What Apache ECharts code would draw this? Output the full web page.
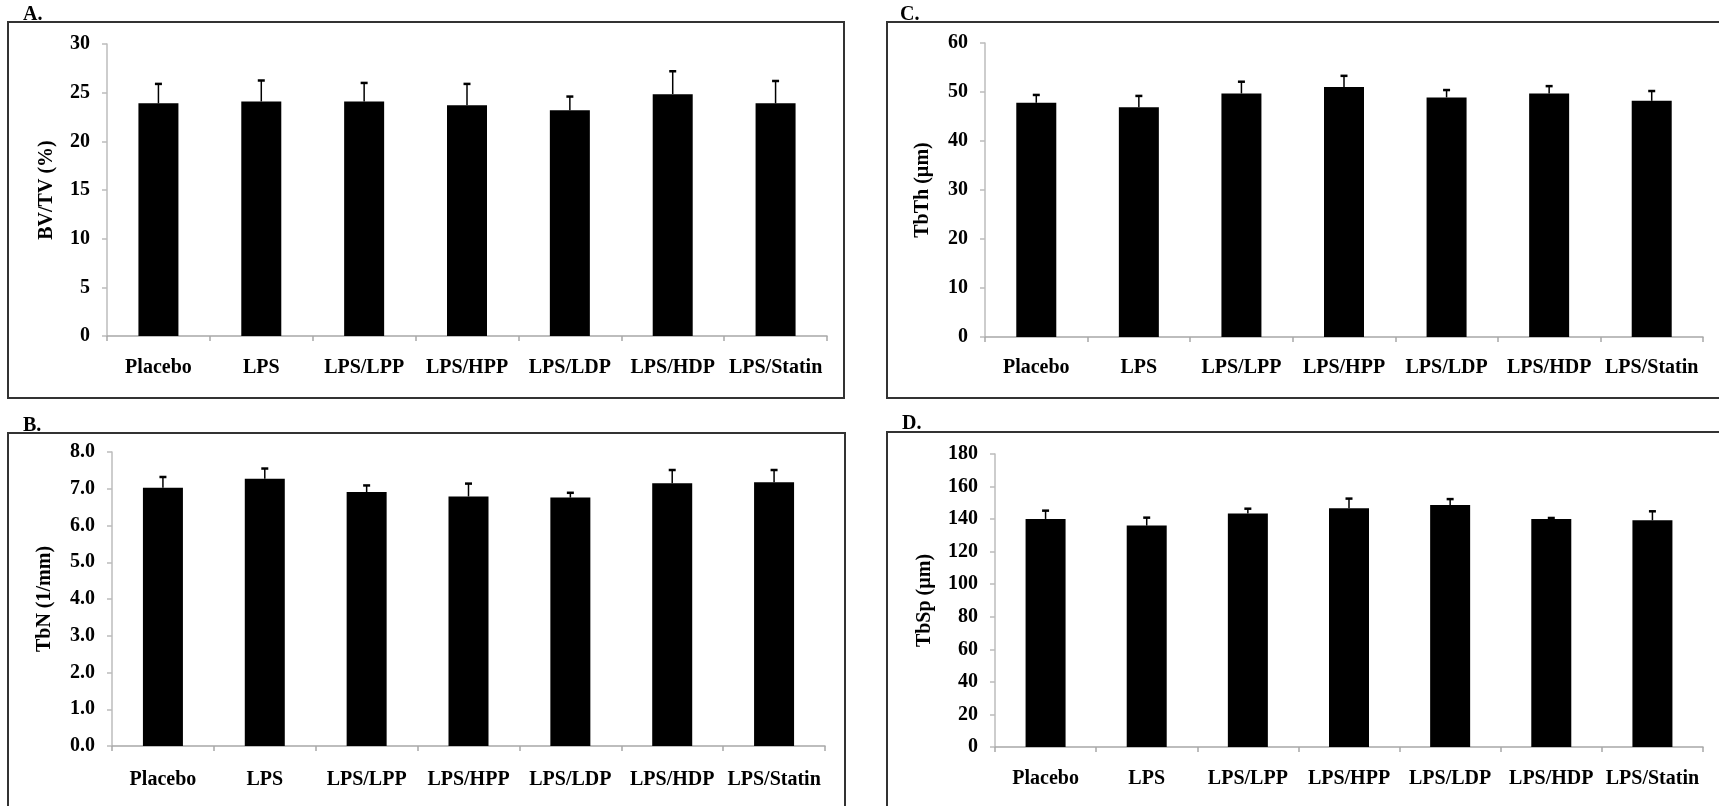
<!DOCTYPE html>
<html>
<head>
<meta charset="utf-8">
<script src="https://cdn.jsdelivr.net/npm/echarts@6/dist/echarts.min.js"></script>
<style>
html,body{margin:0;padding:0;background:#fff;}
#chart{width:1719px;height:806px;}
</style>
</head>
<body>
<div id="chart"></div>
<script>
const categories = ['Placebo', 'LPS', 'LPS/LPP', 'LPS/HPP', 'LPS/LDP', 'LPS/HDP', 'LPS/Statin'];

const bvtvMean = [23.9, 24.1, 24.1, 23.7, 23.2, 24.85, 23.9];
const bvtvErr  = [2.0, 2.15, 1.9, 2.2, 1.4, 2.35, 2.3];

const tbnMean = [7.03, 7.27, 6.91, 6.79, 6.76, 7.15, 7.18];
const tbnErr  = [0.29, 0.28, 0.18, 0.35, 0.13, 0.36, 0.33];

const tbthMean = [47.8, 46.9, 49.7, 51.0, 48.9, 49.7, 48.2];
const tbthErr  = [1.6, 2.3, 2.4, 2.3, 1.5, 1.5, 2.0];

const tbspMean = [140.1, 136.0, 143.4, 146.6, 148.6, 140.1, 139.3];
const tbspErr  = [5.1, 4.9, 3.0, 6.0, 3.7, 0.6, 5.5];

const panelLabels = ['A.', 'B.', 'C.', 'D.'];
const axisTitles = ['BV/TV (%)', 'TbN (1/mm)', 'TbTh (\u00b5m)', 'TbSp (\u00b5m)'];

const SERIF = '"Liberation Serif", "Times New Roman", serif';

const panels = [
  {grid:{left:107, top:44, width:720, height:292}, mean:bvtvMean, err:bvtvErr, max:30, interval:5, dec:0, title:axisTitles[0], gap:50, lblMargin:22},
  {grid:{left:112, top:452, width:713, height:294}, mean:tbnMean, err:tbnErr, max:8, interval:1, dec:1, title:axisTitles[1], gap:57, lblMargin:24},
  {grid:{left:985, top:43, width:718, height:294}, mean:tbthMean, err:tbthErr, max:60, interval:10, dec:0, title:axisTitles[2], gap:52, lblMargin:21},
  {grid:{left:995, top:454, width:708, height:293}, mean:tbspMean, err:tbspErr, max:180, interval:20, dec:0, title:axisTitles[3], gap:60, lblMargin:22}
];

function renderErr(params, api) {
  const idx = api.value(0);
  const top = api.value(1);
  const base = api.value(2);
  const p1 = api.coord([idx, base]);
  const p2 = api.coord([idx, top]);
  const cap = 3.5;
  return {
    type: 'group',
    children: [
      {type:'line', shape:{x1:p1[0], y1:p1[1], x2:p2[0], y2:p2[1]}, style:{stroke:'#000', lineWidth:1.5}},
      {type:'line', shape:{x1:p2[0]-cap, y1:p2[1], x2:p2[0]+cap, y2:p2[1]}, style:{stroke:'#000', lineWidth:2.5}}
    ]
  };
}

const grids = [], xAxes = [], yAxes = [], series = [];
panels.forEach((p, i) => {
  grids.push(Object.assign({containLabel:false}, p.grid));
  xAxes.push({
    type:'category', gridIndex:i, data:categories,
    axisLine:{show:true, lineStyle:{color:'#a8a8a8', width:1.5}},
    axisTick:{show:true, alignWithLabel:false, length:5, lineStyle:{color:'#a8a8a8', width:1.5}},
    axisLabel:{color:'#000', fontFamily:SERIF, fontSize:20, fontWeight:'bold', margin:p.lblMargin, interval:0},
    splitLine:{show:false}
  });
  yAxes.push({
    type:'value', gridIndex:i, min:0, max:p.max, interval:p.interval,
    name:p.title, nameLocation:'middle', nameRotate:90, nameGap:p.gap,
    nameTextStyle:{color:'#000', fontFamily:SERIF, fontSize:20, fontWeight:'bold'},
    axisLine:{show:true, lineStyle:{color:'#bcbcbc', width:1.5}},
    axisTick:{show:true, length:5, lineStyle:{color:'#bcbcbc', width:1.5}},
    axisLabel:{color:'#000', fontFamily:SERIF, fontSize:20, fontWeight:'bold', margin:17,
      formatter:(v) => v.toFixed(p.dec)},
    splitLine:{show:false}
  });
  series.push({
    type:'bar', xAxisIndex:i, yAxisIndex:i, data:p.mean, barWidth:40,
    itemStyle:{color:'#000'}, silent:true, z:2
  });
  series.push({
    type:'custom', xAxisIndex:i, yAxisIndex:i, renderItem:renderErr,
    encode:{x:0, y:[1,2]},
    data:p.mean.map((m, k) => [k, m + p.err[k], m]), z:3, silent:true
  });
});

const boxStyle = {stroke:'#333', lineWidth:2, fill:null};
const labelFont = 'bold 20px ' + SERIF;
const graphic = [
  {type:'rect', shape:{x:8, y:22, width:836, height:376}, style:boxStyle, silent:true},
  {type:'rect', shape:{x:8, y:433, width:837, height:390}, style:boxStyle, silent:true},
  {type:'rect', shape:{x:887, y:22, width:845, height:376}, style:boxStyle, silent:true},
  {type:'rect', shape:{x:887, y:432, width:845, height:390}, style:boxStyle, silent:true},
  {type:'text', left:23, top:5, z:10, style:{text:panelLabels[0], font:labelFont, fill:'#000'}},
  {type:'text', left:23, top:416, z:10, style:{text:panelLabels[1], font:labelFont, fill:'#000'}},
  {type:'text', left:900, top:5, z:10, style:{text:panelLabels[2], font:labelFont, fill:'#000'}},
  {type:'text', left:902, top:414, z:10, style:{text:panelLabels[3], font:labelFont, fill:'#000'}}
];

const chart = echarts.init(document.getElementById('chart'), null, {renderer:'canvas'});
chart.setOption({
  backgroundColor:'#fff',
  animation:false,
  grid:grids, xAxis:xAxes, yAxis:yAxes, series:series, graphic:graphic
});
</script>
</body>
</html>
